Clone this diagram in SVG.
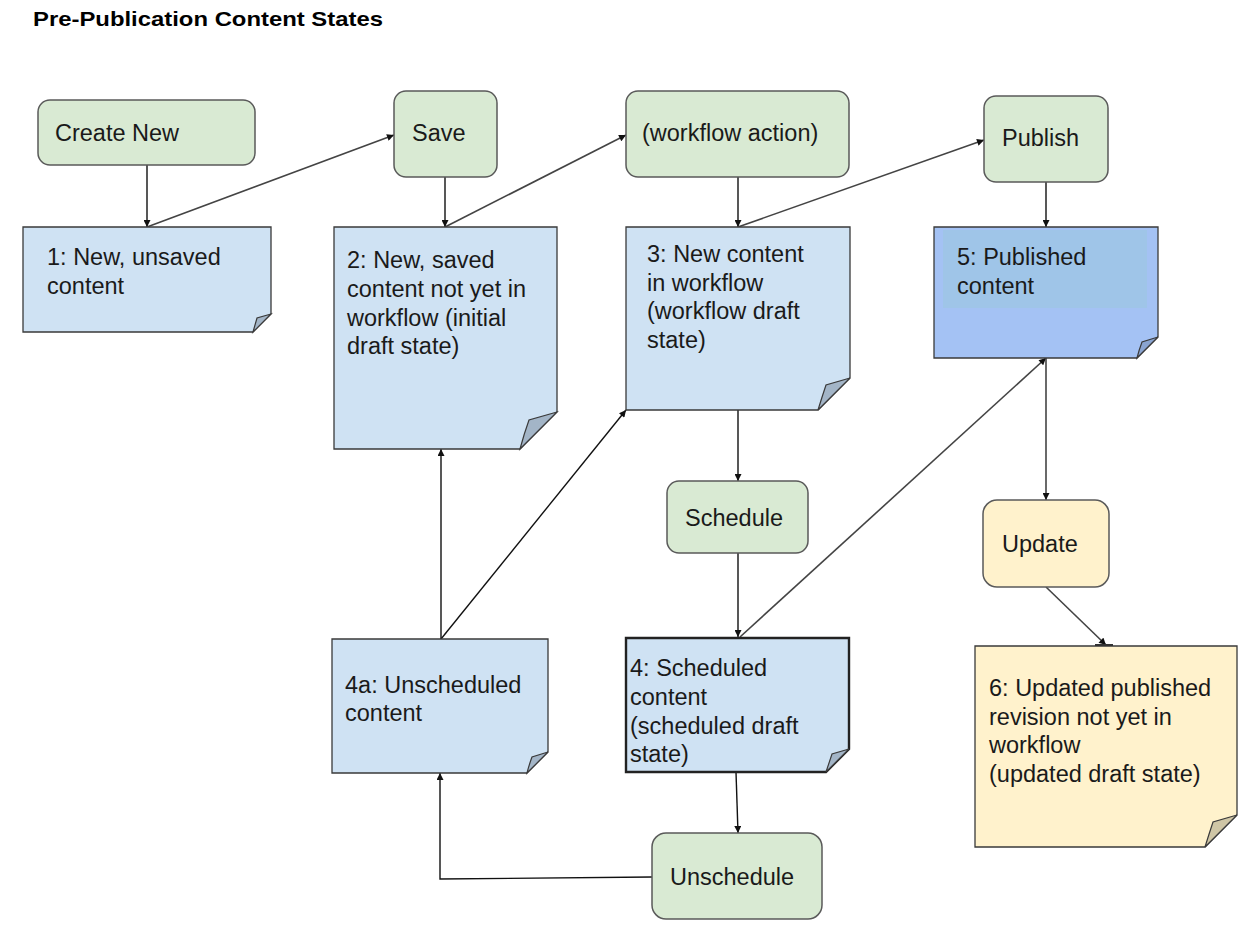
<svg xmlns="http://www.w3.org/2000/svg" width="1258" height="934" viewBox="0 0 1258 934">
<defs>
<style>
.t{font-family:"Liberation Sans",Arial,sans-serif;font-size:23.5px;fill:#1a1a1a}
.title{font-family:"Liberation Sans",Arial,sans-serif;font-size:21px;font-weight:bold;fill:#000}
.act{fill:#d9ead3;stroke:#5a5a5a;stroke-width:1.5}
.upd{fill:#fff2cc;stroke:#5a5a5a;stroke-width:1.5}
.note{fill:#cfe2f3;stroke:#3a3a3a;stroke-width:1.3}
.pub{fill:#a4c2f4;stroke:#3a3a3a;stroke-width:1.3}
.ynote{fill:#fff2cc;stroke:#3a3a3a;stroke-width:1.3}
.fold{fill:#a3b5c7;stroke:#3a3a3a;stroke-width:1.2}
.pfold{fill:#8aa4d0;stroke:#3a3a3a;stroke-width:1.2}
.yfold{fill:#cfc6a6;stroke:#3a3a3a;stroke-width:1.2}
.c{fill:none;stroke:#111;stroke-width:1.4}
.g{fill:none;stroke:#444;stroke-width:1.6}
</style>
<marker id="arr" viewBox="0 0 10 10" refX="10" refY="5" markerWidth="8" markerHeight="7" orient="auto" markerUnits="userSpaceOnUse">
<path d="M0,0 L10,5 L0,10 z" fill="#111"/>
</marker>
</defs>
<rect width="1258" height="934" fill="#fff"/>
<text class="title" x="33" y="26" textLength="350" lengthAdjust="spacingAndGlyphs">Pre-Publication Content States</text>

<g id="connectors">
<path class="c" d="M147,165 L147,227" marker-end="url(#arr)"/>
<path class="g" d="M147,227 L394,135" marker-end="url(#arr)"/>
<path class="c" d="M445,177 L445,227" marker-end="url(#arr)"/>
<path class="g" d="M445,227 L626,135" marker-end="url(#arr)"/>
<path class="c" d="M738,177 L738,227" marker-end="url(#arr)"/>
<path class="g" d="M738,227 L984,140" marker-end="url(#arr)"/>
<path class="c" d="M1046,182 L1046,227" marker-end="url(#arr)"/>
<path class="c" d="M738,410 L738,481" marker-end="url(#arr)"/>
<path class="c" d="M738,553 L738,637" marker-end="url(#arr)"/>
<path class="g" d="M740,637 L1046,358" marker-end="url(#arr)"/>
<path class="g" d="M1046,358 L1046,500" marker-end="url(#arr)"/>
<path class="g" d="M1046,587 L1106,645" marker-end="url(#arr)"/>
<path class="c" d="M736,772 L738,833" marker-end="url(#arr)"/>
<path class="c" d="M652,877 L440,879 L440,773" marker-end="url(#arr)"/>
<path class="c" d="M441,639 L441,449" marker-end="url(#arr)"/>
<path class="c" d="M441,639 L626,410" marker-end="url(#arr)"/>
</g>

<g id="create-new">
<rect class="act" x="38" y="100" width="217" height="65" rx="12"/>
<text class="t" x="55" y="141">Create New</text>
</g>
<g id="save">
<rect class="act" x="394" y="91" width="103" height="86" rx="12"/>
<text class="t" x="412" y="141">Save</text>
</g>
<g id="workflow-action">
<rect class="act" x="626" y="91" width="223" height="86" rx="12"/>
<text class="t" x="642" y="141">(workflow action)</text>
</g>
<g id="publish">
<rect class="act" x="984" y="96" width="124" height="86" rx="12"/>
<text class="t" x="1002" y="146">Publish</text>
</g>

<g id="note1">
<path class="note" d="M23,227 H271 V314 L253,332 H23 Z"/>
<path class="fold" d="M271,314 L257,318 Q255,325 253,332 Z"/>
<text class="t" x="47" y="265">1: New, unsaved</text>
<text class="t" x="47" y="294">content</text>
</g>

<g id="note2">
<path class="note" d="M334,227 H557 V412 L520,449 H334 Z"/>
<path class="fold" d="M557,412 L529,420 Q524,434 520,449 Z"/>
<text class="t" x="347" y="268">2: New, saved</text>
<text class="t" x="347" y="297">content not yet in</text>
<text class="t" x="347" y="326">workflow (initial</text>
<text class="t" x="347" y="354">draft state)</text>
</g>

<g id="note3">
<path class="note" d="M626,227 H850 V378 L818,410 H626 Z"/>
<path class="fold" d="M850,378 L826,385 Q822,397 818,410 Z"/>
<text class="t" x="647" y="262">3: New content</text>
<text class="t" x="647" y="291">in workflow</text>
<text class="t" x="647" y="319">(workflow draft</text>
<text class="t" x="647" y="348">state)</text>
</g>

<g id="note5">
<path class="pub" d="M934,227 H1158 V337 L1137,358 H934 Z"/>
<rect x="943" y="230" width="204" height="78" fill="#9fc5e8"/>
<path class="pfold" d="M1158,337 L1142,342 Q1139,350 1137,358 Z"/>
<text class="t" x="957" y="265">5: Published</text>
<text class="t" x="957" y="294">content</text>
</g>

<g id="schedule">
<rect class="act" x="667" y="481" width="141" height="72" rx="12"/>
<text class="t" x="685" y="526">Schedule</text>
</g>

<g id="update">
<rect class="upd" x="983" y="500" width="126" height="87" rx="14"/>
<text class="t" x="1002" y="552">Update</text>
</g>

<g id="note4a">
<path class="note" d="M332,639 H548 V752 L527,773 H332 Z"/>
<path class="fold" d="M548,752 L532,757 Q529,765 527,773 Z"/>
<text class="t" x="345" y="693">4a: Unscheduled</text>
<text class="t" x="345" y="721">content</text>
</g>

<g id="note4">
<path class="note" d="M626,638 H849 V749 L826,772 H626 Z" style="stroke-width:2.4;stroke:#222"/>
<path class="fold" d="M849,749 L832,754 Q829,763 826,772 Z"/>
<text class="t" x="630" y="676">4: Scheduled</text>
<text class="t" x="630" y="705">content</text>
<text class="t" x="630" y="734">(scheduled draft</text>
<text class="t" x="630" y="762">state)</text>
</g>

<g id="note6">
<path class="ynote" d="M975,646 H1237 V815 L1205,847 H975 Z"/>
<path class="yfold" d="M1237,815 L1213,822 Q1209,834 1205,847 Z"/>
<path d="M1095,645 H1113" stroke="#333" stroke-width="2" fill="none"/>
<text class="t" x="989" y="696">6: Updated published</text>
<text class="t" x="989" y="725">revision not yet in</text>
<text class="t" x="989" y="753">workflow</text>
<text class="t" x="989" y="782">(updated draft state)</text>
</g>

<g id="unschedule">
<rect class="act" x="652" y="833" width="170" height="86" rx="14"/>
<text class="t" x="670" y="885">Unschedule</text>
</g>
</svg>
